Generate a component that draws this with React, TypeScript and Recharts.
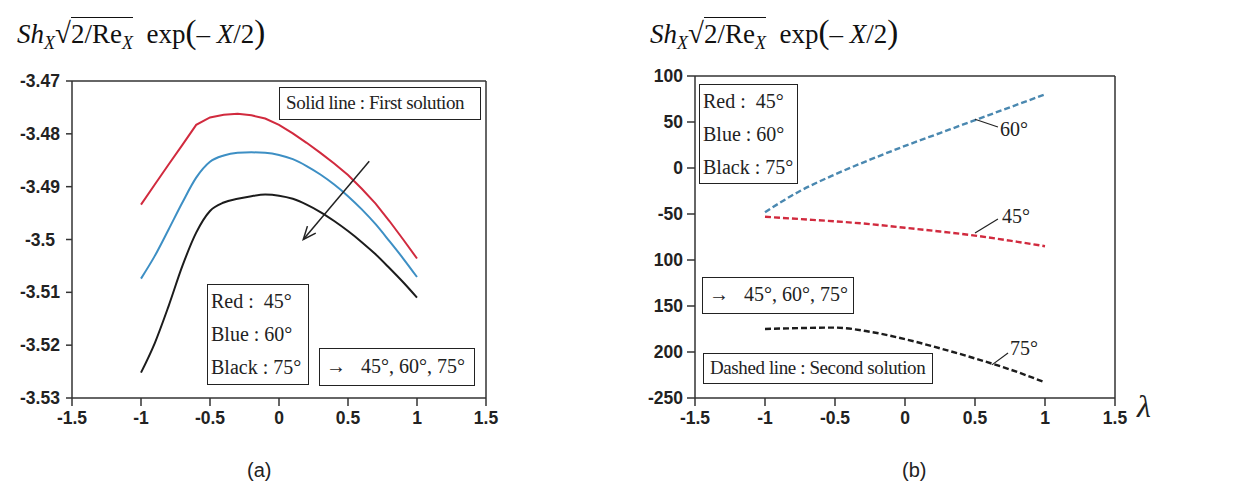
import React from 'react';
import { LineChart, Line, XAxis, YAxis, ReferenceLine } from 'recharts';

// lambda values for the first-solution curves (panel a)
const lambdaA = [-1, -0.9, -0.8, -0.7, -0.6, -0.5, -0.4, -0.3, -0.2, -0.1, 0, 0.1, 0.2, 0.3, 0.4, 0.5, 0.6, 0.7, 0.8, 0.9, 1];
const firstRed = [-3.4934, -3.4896, -3.4858, -3.4821, -3.4783, -3.4769, -3.4764, -3.4762, -3.4765, -3.4771, -3.4783, -3.4799, -3.4817, -3.4836, -3.4856, -3.4878, -3.4904, -3.4932, -3.4965, -3.5, -3.5036];
const firstBlue = [-3.5074, -3.5031, -3.4981, -3.493, -3.4883, -3.4853, -3.4841, -3.4836, -3.4835, -3.4836, -3.484, -3.4848, -3.4861, -3.4877, -3.4896, -3.4918, -3.4943, -3.4971, -3.5003, -3.5036, -3.5071];
const firstBlack = [-3.5252, -3.5196, -3.5126, -3.505, -3.4987, -3.4946, -3.493, -3.4923, -3.4918, -3.4915, -3.4917, -3.4923, -3.4934, -3.4948, -3.4965, -3.4984, -3.5005, -3.5028, -3.5054, -3.5081, -3.511];

// lambda values for the second-solution curves (panel b)
const lambdaB = [-1, -0.75, -0.5, -0.25, 0, 0.25, 0.5, 0.75, 1];
const secondRed = [-53, -55.5, -58, -61, -65, -69, -73.5, -79, -85];
const secondBlue = [-48, -25, -7, 9, 24, 38, 52, 66, 80];
const secondBlack = [-175, -174, -173.5, -178, -186, -196, -207, -219, -233];

const xTicks = [-1.5, -1, -0.5, 0, 0.5, 1, 1.5];
const yTicksA = [-3.53, -3.52, -3.51, -3.5, -3.49, -3.48, -3.47];
const yTicksB = [100, 50, 0, -50, -100, -150, -200, -250];
const yLabelsB = ['100', '50', '0', '-50', '100', '150', '200', '-250'];

const dataA = lambdaA.map((l, i) => ({ l, red: firstRed[i], blue: firstBlue[i], black: firstBlack[i] }));
const dataB = lambdaB.map((l, i) => ({ l, red: secondRed[i], blue: secondBlue[i], black: secondBlack[i] }));

const RED = '#d12a3e';
const BLUE = '#3d8fc4';
const BLACK = '#1c1c1c';
const AXIS = '#333';
const serif = '"Liberation Serif", "Times New Roman", serif';
const sans = '"Liberation Sans", Arial, sans-serif';

const tickFont = { fontFamily: sans, fontWeight: 700, fontSize: 17.5, fill: '#222' };

const boxStyle: React.CSSProperties = {
  position: 'absolute',
  border: '1.5px solid #222',
  background: '#fff',
  fontFamily: serif,
  fontSize: 20,
  color: '#222',
  boxSizing: 'border-box',
  whiteSpace: 'pre',
  overflow: 'hidden',
};

const arrowShape = (p: any) => {
  const { x1, y1, x2, y2 } = p;
  const a = Math.atan2(y2 - y1, x2 - x1);
  const h = 14;
  const ax = x2 - h * Math.cos(a - 0.4);
  const ay = y2 - h * Math.sin(a - 0.4);
  const bx = x2 - h * Math.cos(a + 0.4);
  const by = y2 - h * Math.sin(a + 0.4);
  return (
    <g>
      <line x1={x1} y1={y1} x2={x2} y2={y2} stroke="#222" strokeWidth={1.5} />
      <polyline points={`${ax},${ay} ${x2},${y2} ${bx},${by}`} fill="none" stroke="#222" strokeWidth={1.5} />
    </g>
  );
};

const leader = (p: any) => (
  <line x1={p.x1} y1={p.y1} x2={p.x2} y2={p.y2} stroke="#222" strokeWidth={1.2} />
);

function Title({ left }: { left: number }) {
  return (
    <div style={{ position: 'absolute', left, top: 14, fontFamily: serif, fontSize: 27, color: '#111', whiteSpace: 'pre' }}>
      <i>Sh</i>
      <sub style={{ fontSize: 18 }}><i>X</i></sub>
      <span style={{ fontSize: 29 }}>√</span>
      <span style={{ borderTop: '1.5px solid #111', paddingTop: 1 }}>
        2/Re<sub style={{ fontSize: 18 }}><i>X</i></sub>
      </span>
      {'  exp'}
      <span style={{ fontSize: 33 }}>(</span>– <i>X</i>/2<span style={{ fontSize: 33 }}>)</span>
    </div>
  );
}

const centeredTickA = (p: any) => (
  <text x={p.x - 24} y={p.y} dy="0.35em" textAnchor="middle" {...tickFont}>
    {String(p.payload.value)}
  </text>
);

export default function App() {
  return (
    <div style={{ position: 'absolute', left: 0, top: 0, width: 1258, height: 482, background: '#fff' }}>
      <Title left={17} />
      <Title left={650} />

      {/* (a) first solution */}
      <div style={{ position: 'absolute', left: 0, top: 0 }}>
        <LineChart width={600} height={440} data={dataA} margin={{ top: 81, right: 114, bottom: 0, left: 0 }}>
          <XAxis
            dataKey="l"
            type="number"
            domain={[-1.5, 1.5]}
            ticks={xTicks}
            height={42}
            stroke={AXIS}
            strokeWidth={1.5}
            tickSize={8}
            tickMargin={6}
            tick={tickFont}
          />
          <YAxis
            type="number"
            domain={[-3.53, -3.47]}
            ticks={yTicksA}
            width={72}
            stroke={AXIS}
            strokeWidth={1.5}
            tickSize={6}
            tickMargin={2}
            tick={centeredTickA}
            allowDataOverflow
          />
          <ReferenceLine y={-3.47} stroke={AXIS} strokeWidth={1.5} />
          <ReferenceLine x={1.5} stroke={AXIS} strokeWidth={1.5} />
          <Line type="linear" dataKey="red" stroke={RED} strokeWidth={2} dot={false} isAnimationActive={false} />
          <Line type="monotone" dataKey="blue" stroke={BLUE} strokeWidth={2} dot={false} isAnimationActive={false} />
          <Line type="monotone" dataKey="black" stroke={BLACK} strokeWidth={2} dot={false} isAnimationActive={false} />
          <ReferenceLine
            segment={[{ x: 0.654, y: -3.4852 }, { x: 0.176, y: -3.5 }]}
            shape={arrowShape}
            ifOverflow="visible"
          />
        </LineChart>
      </div>

      {/* (b) second solution */}
      <div style={{ position: 'absolute', left: 620, top: 0 }}>
        <LineChart width={600} height={440} data={dataB} margin={{ top: 76, right: 105, bottom: 0, left: 0 }}>
          <XAxis
            dataKey="l"
            type="number"
            domain={[-1.5, 1.5]}
            ticks={xTicks}
            height={42}
            stroke={AXIS}
            strokeWidth={1.5}
            tickSize={8}
            tickMargin={6}
            tick={tickFont}
          />
          <YAxis
            type="number"
            domain={[-250, 100]}
            ticks={yTicksB}
            width={75}
            stroke={AXIS}
            strokeWidth={1.5}
            tickSize={8}
            tickMargin={4}
            tick={tickFont}
            tickFormatter={(v: number) => yLabelsB[yTicksB.indexOf(v)]}
          />
          <ReferenceLine y={100} stroke={AXIS} strokeWidth={1.5} />
          <ReferenceLine x={1.5} stroke={AXIS} strokeWidth={1.5} />
          <Line type="monotone" dataKey="blue" stroke="#4a88b0" strokeWidth={2.4} strokeDasharray="6 3" dot={false} isAnimationActive={false} />
          <Line type="monotone" dataKey="red" stroke={RED} strokeWidth={2.4} strokeDasharray="6 3" dot={false} isAnimationActive={false} />
          <Line type="monotone" dataKey="black" stroke={BLACK} strokeWidth={2.4} strokeDasharray="6 3" dot={false} isAnimationActive={false} />
          <ReferenceLine segment={[{ x: 0.5, y: 53 }, { x: 0.664, y: 44.6 }]} shape={leader} />
          <ReferenceLine segment={[{ x: 0.5, y: -70.7 }, { x: 0.664, y: -55.4 }]} shape={leader} />
          <ReferenceLine segment={[{ x: 0.621, y: -214 }, { x: 0.736, y: -201 }]} shape={leader} />
        </LineChart>
      </div>

      {/* panel (a) annotations */}
      <div style={{ ...boxStyle, left: 279, top: 87, width: 202, height: 33, paddingLeft: 6, lineHeight: '30px', fontSize: 19, letterSpacing: -0.4 }}>
        {'Solid line : First solution'}
      </div>
      <div style={{ ...boxStyle, left: 207, top: 284, width: 102, height: 101, paddingLeft: 3, lineHeight: '33px' }}>
        <div>{'Red :  45°'}</div>
        <div>{'Blue : 60°'}</div>
        <div>{'Black : 75°'}</div>
      </div>
      <div style={{ ...boxStyle, left: 319, top: 348, width: 156, height: 38, paddingLeft: 6, lineHeight: '34px' }}>
        {'→   45°, 60°, 75°'}
      </div>
      <div style={{ position: 'absolute', left: 247, top: 459, fontFamily: sans, fontSize: 20, color: '#222' }}>(a)</div>

      {/* panel (b) annotations */}
      <div style={{ ...boxStyle, left: 699, top: 84, width: 99, height: 100, paddingLeft: 3, lineHeight: '33px' }}>
        <div>{'Red :  45°'}</div>
        <div>{'Blue : 60°'}</div>
        <div>{'Black : 75°'}</div>
      </div>
      <div style={{ ...boxStyle, left: 702, top: 277, width: 152, height: 37, paddingLeft: 6, lineHeight: '33px' }}>
        {'→   45°, 60°, 75°'}
      </div>
      <div style={{ ...boxStyle, left: 703, top: 353, width: 230, height: 31, paddingLeft: 6, lineHeight: '28px', fontSize: 19, letterSpacing: -0.4 }}>
        {'Dashed line : Second solution'}
      </div>
      <div style={{ position: 'absolute', left: 1000, top: 118, fontFamily: serif, fontSize: 20, color: '#222' }}>60°</div>
      <div style={{ position: 'absolute', left: 1002, top: 205, fontFamily: serif, fontSize: 20, color: '#222' }}>45°</div>
      <div style={{ position: 'absolute', left: 1010, top: 337, fontFamily: serif, fontSize: 20, color: '#222' }}>75°</div>
      <div style={{ position: 'absolute', left: 1137, top: 388, fontFamily: serif, fontStyle: 'italic', fontSize: 32, color: '#222' }}>λ</div>
      <div style={{ position: 'absolute', left: 902, top: 459, fontFamily: sans, fontSize: 20, color: '#222' }}>(b)</div>
    </div>
  );
}
